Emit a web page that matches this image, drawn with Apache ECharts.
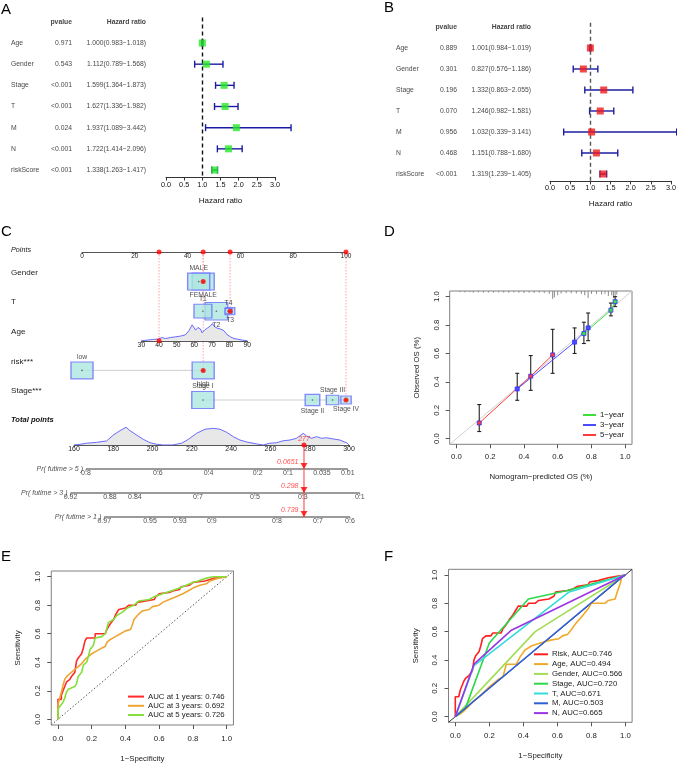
<!DOCTYPE html>
<html>
<head>
<meta charset="utf-8">
<title>Prognostic model figure</title>
<script src="https://cdn.jsdelivr.net/npm/echarts@6.0.0/dist/echarts.min.js"></script>
<style>
    html, body { margin: 0; padding: 0; background: #fff; }
    #chart { width: 677px; height: 764px; }
</style>
</head>
<body>
<div id="chart"></div>
<script>
var FONT = "'Liberation Sans', Arial, Helvetica, sans-serif";

// ---------- A / B : Cox regression forest plots ----------
var forestVars = ["Age", "Gender", "Stage", "T", "M", "N", "riskScore"];
var uniP = ["0.971", "0.543", "<0.001", "<0.001", "0.024", "<0.001", "<0.001"];
var uniHR = [1.000, 1.112, 1.599, 1.627, 1.937, 1.722, 1.338];
var uniLow = [0.983, 0.789, 1.364, 1.336, 1.089, 1.414, 1.263];
var uniHigh = [1.018, 1.568, 1.873, 1.982, 3.442, 2.096, 1.417];
var multiP = ["0.889", "0.301", "0.196", "0.070", "0.956", "0.468", "<0.001"];
var multiHR = [1.001, 0.827, 1.332, 1.246, 1.032, 1.151, 1.319];
var multiLow = [0.984, 0.576, 0.863, 0.982, 0.339, 0.788, 1.239];
var multiHigh = [1.019, 1.186, 2.055, 1.581, 3.141, 1.680, 1.405];

// ---------- C : nomogram ----------
var nomoRows = ["Points", "Gender", "T", "Age", "risk***", "Stage***"];
var genderLevels = ["FEMALE", "MALE"];
var genderPts = [45.9, 44.2];
var genderFreq = [0.5, 0.5];
var tLevels = ["T1", "T2", "T3", "T4"];
var tPts = [45.8, 50.9, 56.1, 55.5];
var tFreq = [0.33, 0.53, 0.09, 0.05];
var riskLevels = ["low", "high"];
var riskPts = [0, 45.9];
var riskFreq = [0.5, 0.5];
var stageLevels = ["Stage I", "Stage II", "Stage III", "Stage IV"];
var stagePts = [45.8, 87.3, 94.9, 100];
var stageFreq = [0.51, 0.22, 0.16, 0.11];
var ageRange = [30, 90];
var agePtsRange = [22.5, 62.6];
var ageX = [30, 33.2, 37, 40, 41.7, 43.6, 46.5, 49.3, 52.1, 55, 56.9, 58.8, 59.7, 60.7, 62, 63.5,
    64.4, 65.8, 67.3, 69.2, 70.3, 71.5, 73, 74.9, 76.8, 78.6, 80.5, 82.4, 84.3, 87.2, 90];
var ageDens = [0, 0.04, 0.08, 0.1, 0.19, 0.13, 0.19, 0.23, 0.27, 0.35, 0.58, 0.92, 0.87, 0.62, 0.77, 0.68,
    0.46, 0.62, 0.73, 0.87, 1.0, 0.81, 0.73, 0.68, 0.58, 0.35, 0.23, 0.13, 0.1, 0.04, 0];
var totalX = [160, 163.1, 166.4, 171.5, 176.6, 180, 183.4, 186.5, 188.5, 191.9, 195.3, 198.7, 202.1, 205.5,
    210, 214.8, 218.2, 222.4, 226.7, 230.9, 234.3, 237.7, 241.1, 244.5, 247.9, 253, 256.3, 259.7, 263.2,
    266.5, 269.9, 273.3, 276.7, 278.4, 280.9, 283.5, 286, 288.6, 292, 295.4, 299, 300];
var totalDens = [0, 0.04, 0.1, 0.15, 0.23, 0.56, 0.81, 1, 0.81, 0.56, 0.32, 0.13, 0.04, 0,
    0, 0.1, 0.32, 0.66, 0.89, 0.94, 0.89, 0.72, 0.47, 0.28, 0.17, 0.06, 0, 0.1, 0.13,
    0.24, 0.28, 0.38, 0.66, 0.51, 0.38, 0.47, 0.38, 0.41, 0.34, 0.28, 0.11, 0];
var prNames = ["Pr( futime > 5 )", "Pr( futime > 3 )", "Pr( futime > 1 )"];
var prTickLabels = [
    ["0.8", "0.6", "0.4", "0.2", "0.1", "0.035", "0.01"],
    ["0.92", "0.88", "0.84", "0.7", "0.5", "0.3", "0.1"],
    ["0.97", "0.95", "0.93", "0.9", "0.8", "0.7", "0.6"]
];
var prTickTotals = [
    [166.1, 202.7, 228.5, 253.5, 268.9, 286.2, 299.4],
    [158.2, 178.3, 191.0, 223.1, 252.1, 276.5, 305.5],
    [175.4, 198.7, 213.9, 230.2, 263.3, 284.2, 300.5]
];
var prResult = ["0.0651", "0.298", "0.739"];
// the patient marked in red
var selGender = 0, selT = 2, selAge = 40, selRisk = 1, selStage = 3;

// ---------- D : calibration ----------
var calNames = ["1\u2212year", "3\u2212year", "5\u2212year"];
var calPred = [[0.755, 0.915, 0.94], [0.36, 0.70, 0.78], [0.135, 0.44, 0.57]];
var calObs = [[0.74, 0.905, 0.965], [0.35, 0.68, 0.78], [0.11, 0.44, 0.59]];
var calLow = [[0.67, 0.865, 0.93], [0.27, 0.60, 0.69], [0.05, 0.34, 0.46]];
var calHigh = [[0.82, 0.955, 1.0], [0.46, 0.78, 0.885], [0.24, 0.585, 0.77]];
var riskX = [0.02, 0.05, 0.08, 0.1, 0.13, 0.16, 0.19, 0.22, 0.25, 0.28, 0.31, 0.34, 0.37, 0.4, 0.43, 0.46,
    0.49, 0.52, 0.55, 0.57, 0.58, 0.6, 0.62, 0.65, 0.68, 0.71, 0.74, 0.76, 0.78, 0.8, 0.83, 0.86, 0.88,
    0.9, 0.92, 0.93, 0.94, 0.95];
var riskH = [0.008, 0.01, 0.008, 0.012, 0.01, 0.012, 0.01, 0.012, 0.01, 0.012, 0.012, 0.01, 0.012, 0.014,
    0.012, 0.014, 0.012, 0.014, 0.02, 0.055, 0.045, 0.03, 0.018, 0.015, 0.016, 0.018, 0.02, 0.03, 0.05,
    0.02, 0.02, 0.025, 0.02, 0.035, 0.03, 0.05, 0.04, 0.025];

// ---------- E : time-dependent ROC ----------
var rocEYears = [1, 3, 5];
var rocEAuc = ["0.746", "0.692", "0.726"];
var rocE1 = [[0, 0], [0, 0.07], [0, 0.14], [0.02, 0.14], [0.02, 0.17], [0.03, 0.2], [0.04, 0.23], [0.05, 0.26],
    [0.07, 0.28], [0.08, 0.3], [0.1, 0.33], [0.11, 0.41], [0.12, 0.43], [0.14, 0.46], [0.15, 0.5], [0.16, 0.55],
    [0.17, 0.57], [0.22, 0.57], [0.22, 0.6], [0.28, 0.6], [0.29, 0.63], [0.3, 0.64], [0.31, 0.67], [0.33, 0.7],
    [0.34, 0.73], [0.36, 0.77], [0.4, 0.78], [0.42, 0.8], [0.46, 0.8], [0.47, 0.82], [0.52, 0.83], [0.57, 0.84],
    [0.58, 0.86], [0.6, 0.88], [0.66, 0.89], [0.68, 0.9], [0.72, 0.91], [0.73, 0.93], [0.78, 0.94], [0.79, 0.95],
    [0.8, 0.96], [0.87, 0.97], [0.9, 0.98], [0.93, 0.99], [1, 1]];
var rocE3 = [[0, 0], [0, 0.05], [0, 0.1], [0.01, 0.15], [0.02, 0.19], [0.03, 0.24], [0.04, 0.28], [0.06, 0.31],
    [0.08, 0.33], [0.1, 0.35], [0.12, 0.37], [0.14, 0.39], [0.16, 0.42], [0.18, 0.44], [0.2, 0.46], [0.23, 0.48],
    [0.26, 0.5], [0.28, 0.51], [0.29, 0.54], [0.31, 0.56], [0.34, 0.58], [0.37, 0.6], [0.4, 0.62], [0.43, 0.63],
    [0.44, 0.66], [0.45, 0.7], [0.46, 0.71], [0.48, 0.74], [0.5, 0.76], [0.54, 0.77], [0.56, 0.79], [0.6, 0.8],
    [0.62, 0.82], [0.66, 0.84], [0.7, 0.86], [0.74, 0.88], [0.77, 0.9], [0.8, 0.92], [0.84, 0.94], [0.88, 0.95],
    [0.9, 0.97], [0.95, 0.99], [1, 1]];
var rocE5 = [[0, 0], [0, 0.07], [0.01, 0.09], [0.03, 0.12], [0.04, 0.15], [0.05, 0.19], [0.06, 0.21], [0.1, 0.23],
    [0.11, 0.25], [0.12, 0.3], [0.14, 0.33], [0.15, 0.38], [0.17, 0.4], [0.18, 0.44], [0.19, 0.49], [0.21, 0.52],
    [0.22, 0.57], [0.26, 0.58], [0.28, 0.6], [0.29, 0.64], [0.3, 0.68], [0.33, 0.7], [0.35, 0.73], [0.38, 0.75],
    [0.41, 0.78], [0.45, 0.8], [0.48, 0.83], [0.54, 0.84], [0.57, 0.86], [0.62, 0.88], [0.67, 0.9], [0.72, 0.92],
    [0.76, 0.94], [0.8, 0.96], [0.83, 0.97], [0.88, 0.99], [0.92, 1], [1, 1]];

// ---------- F : ROC of each factor ----------
var rocFNames = ["Risk", "Age", "Gender", "Stage", "T", "M", "N"];
var rocFAuc = ["0.746", "0.494", "0.566", "0.720", "0.671", "0.503", "0.665"];
var rocFRisk = [[0, 0], [0, 0.14], [0.02, 0.14], [0.03, 0.19], [0.04, 0.22], [0.05, 0.25], [0.06, 0.27], [0.08, 0.29],
    [0.1, 0.32], [0.11, 0.4], [0.12, 0.43], [0.14, 0.46], [0.15, 0.5], [0.16, 0.55], [0.18, 0.57], [0.21, 0.57],
    [0.22, 0.59], [0.27, 0.59], [0.28, 0.62], [0.3, 0.65], [0.32, 0.69], [0.34, 0.72], [0.36, 0.76], [0.37, 0.78],
    [0.42, 0.78], [0.43, 0.8], [0.47, 0.8], [0.49, 0.82], [0.55, 0.83], [0.58, 0.85], [0.59, 0.88], [0.66, 0.89],
    [0.69, 0.9], [0.72, 0.92], [0.78, 0.93], [0.79, 0.95], [0.84, 0.96], [0.9, 0.98], [0.95, 0.99], [1, 1]];
var rocFAge = [[0, 0], [0.03, 0.02], [0.06, 0.05], [0.1, 0.1], [0.15, 0.15], [0.2, 0.21], [0.25, 0.26], [0.28, 0.28],
    [0.3, 0.37], [0.36, 0.37], [0.38, 0.42], [0.41, 0.47], [0.45, 0.5], [0.5, 0.52], [0.56, 0.54], [0.61, 0.55],
    [0.63, 0.57], [0.66, 0.58], [0.68, 0.61], [0.71, 0.66], [0.74, 0.7], [0.78, 0.76], [0.8, 0.8], [0.88, 0.8],
    [0.9, 0.82], [0.94, 0.83], [0.95, 0.87], [0.97, 0.94], [0.98, 0.99], [1, 1]];
var rocFGender = [[0, 0], [0.47, 0.6], [1, 1]];
var rocFStage = [[0, 0], [0.06, 0.06], [0.2, 0.52], [0.43, 0.83], [0.66, 0.89], [1, 1]];
var rocFT = [[0, 0], [0.11, 0.36], [0.67, 0.88], [1, 1]];
var rocFM = [[0, 0], [0.97, 0.975], [1, 1]];
var rocFN = [[0, 0], [0.11, 0.37], [0.33, 0.61], [1, 1]];

// ---------- helpers ----------
function hrText(h, l, u) {
    return h.toFixed(3) + "(" + l.toFixed(3) + "\u2212" + u.toFixed(3) + ")";
}

function hiddenAxis(gi, min, max, inverse) {
    return { gridIndex: gi, type: "value", min: min, max: max, inverse: !!inverse, show: false };
}

function textLayer(gi, items, align, extra) {
    var label = {
        show: true, position: [0, 0], align: align, verticalAlign: "middle",
        formatter: "{b}", color: "#111", fontSize: 6.8, fontFamily: FONT
    };
    Object.keys(extra || {}).forEach(function (k) { label[k] = extra[k]; });
    return {
        type: "scatter", xAxisIndex: gi, yAxisIndex: gi, silent: true, symbolSize: 0, z: 10,
        data: items, label: label
    };
}

function segLayer(gi, data, style, kind) {
    // kind "h": [x1, x2, y]; "v": [x, y1, y2]
    return {
        type: "custom", xAxisIndex: gi, yAxisIndex: gi, silent: true, z: 2,
        data: data,
        renderItem: function (p, api) {
            var a, b;
            if (kind === "h") {
                a = api.coord([api.value(0), api.value(2)]);
                b = api.coord([api.value(1), api.value(2)]);
            } else {
                a = api.coord([api.value(0), api.value(1)]);
                b = api.coord([api.value(0), api.value(2)]);
            }
            return { type: "line", shape: { x1: a[0], y1: a[1], x2: b[0], y2: b[1] }, style: style };
        }
    };
}

function ciLayer(gi, lo, hi, color, cap, horizontal) {
    return {
        type: "custom", xAxisIndex: gi, yAxisIndex: gi, silent: true, z: 2,
        data: lo.map(function (l, i) { return horizontal ? [l, hi[i], i] : [horizontal, l, hi[i]]; }),
        renderItem: function (p, api) {
            var a = api.coord([api.value(0), api.value(2)]);
            var b = api.coord([api.value(1), api.value(2)]);
            var st = { stroke: color, lineWidth: 1.4 };
            return {
                type: "group", children: [
                    { type: "line", shape: { x1: a[0], y1: a[1], x2: b[0], y2: b[1] }, style: st },
                    { type: "line", shape: { x1: a[0], y1: a[1] - cap, x2: a[0], y2: a[1] + cap }, style: st },
                    { type: "line", shape: { x1: b[0], y1: b[1] - cap, x2: b[0], y2: b[1] + cap }, style: st }
                ]
            };
        }
    };
}

var grids = [];
var xAxes = [];
var yAxes = [];
var series = [];

function addGrid(g) {
    g.outerBoundsMode = "none";
    g.containLabel = false;
    grids.push(g);
    return grids.length - 1;
}

// ---------- forest plots (A, B) ----------
function forestPanel(plotBox, tableBox, cols, pvals, hr, lo, hi, boxColor, dashColor, nameGap) {
    var gp = addGrid(plotBox);
    xAxes.push({
        gridIndex: gp, type: "value", min: 0, max: 3, interval: 0.5,
        axisLine: { onZero: false, lineStyle: { color: "#333", width: 1 } },
        axisTick: { length: 3.5, lineStyle: { color: "#333" } },
        axisLabel: { formatter: function (v) { return v.toFixed(1); }, fontSize: 7.3, color: "#111", margin: 4,
            showMinLabel: true, showMaxLabel: true },
        splitLine: { show: false },
        name: "Hazard ratio", nameLocation: "middle", nameGap: nameGap,
        nameTextStyle: { fontSize: 8, color: "#111" }
    });
    yAxes.push(hiddenAxis(gp, -1.2, 6.33, true));
    series.push({
        type: "custom", xAxisIndex: gp, yAxisIndex: gp, silent: true, z: 2,
        data: lo.map(function (l, i) { return [l, hi[i], i]; }),
        renderItem: function (p, api) {
            var a = api.coord([api.value(0), api.value(2)]);
            var b = api.coord([api.value(1), api.value(2)]);
            var st = { stroke: "#1c1ca3", lineWidth: 1.4 };
            return {
                type: "group", children: [
                    { type: "line", shape: { x1: a[0], y1: a[1], x2: b[0], y2: b[1] }, style: st },
                    { type: "line", shape: { x1: a[0], y1: a[1] - 3.5, x2: a[0], y2: a[1] + 3.5 }, style: st },
                    { type: "line", shape: { x1: b[0], y1: b[1] - 3.5, x2: b[0], y2: b[1] + 3.5 }, style: st }
                ]
            };
        },
        markLine: {
            silent: true, symbol: ["none", "none"], label: { show: false },
            lineStyle: { type: [4, 3], color: dashColor, width: 1.4 },
            data: [{ xAxis: 1 }]
        }
    });
    series.push({
        type: "scatter", xAxisIndex: gp, yAxisIndex: gp, silent: true, z: 5,
        symbol: "rect", symbolSize: 7, itemStyle: { color: boxColor },
        data: hr.map(function (h, i) { return [h, i]; })
    });

    var gt = addGrid(tableBox);
    xAxes.push(hiddenAxis(gt, 0, tableBox.width));
    yAxes.push(hiddenAxis(gt, -1.2, 6.33, true));
    series.push(textLayer(gt, forestVars.map(function (n, i) { return { name: n, value: [cols[0], i] }; }), "left"));
    series.push(textLayer(gt, pvals.map(function (p, i) { return { name: p, value: [cols[1], i] }; }), "right"));
    series.push(textLayer(gt, hr.map(function (h, i) {
        return { name: hrText(h, lo[i], hi[i]), value: [cols[2], i] };
    }), "right"));
    series.push(textLayer(gt, [{ name: "pvalue", value: [cols[1], -1] }, { name: "Hazard ratio", value: [cols[2], -1] }],
        "right", { fontWeight: "bold" }));
}

forestPanel({ left: 166, top: 17.6, width: 109, height: 159.4 }, { left: 0, top: 17.6, width: 166, height: 159.4 },
    [11, 72, 146], uniP, uniHR, uniLow, uniHigh, "#25e825", "#111", 19.5);
forestPanel({ left: 550, top: 22.8, width: 121, height: 158.1 }, { left: 338, top: 22.8, width: 212, height: 158.1 },
    [58, 119, 193], multiP, multiHR, multiLow, multiHigh, "#f01a1a", "#555", 18.5);

// ---------- nomogram (C) ----------
var PTS_LEFT = 82, PTS_WIDTH = 264;
function agePoints(a) {
    return agePtsRange[0] + (a - ageRange[0]) / (ageRange[1] - ageRange[0]) * (agePtsRange[1] - agePtsRange[0]);
}
var selPts = [genderPts[selGender], tPts[selT], agePoints(selAge), riskPts[selRisk], stagePts[selStage]];
var selTotal = selPts.reduce(function (s, v) { return s + v; }, 0);

var gRows = addGrid({ left: PTS_LEFT, top: 252, width: PTS_WIDTH, height: 148 });
xAxes.push({
    gridIndex: gRows, type: "value", min: 0, max: 100, interval: 20, position: "top",
    axisLine: { onZero: false, lineStyle: { color: "#555", width: 1 } },
    axisTick: { inside: true, length: 2, lineStyle: { color: "#555" } },
    axisLabel: { inside: true, margin: 1, fontSize: 6.5, color: "#222", showMinLabel: true, showMaxLabel: true },
    splitLine: { show: false }
});
yAxes.push({
    gridIndex: gRows, type: "value", min: 0, max: 5, interval: 1, inverse: true,
    axisLine: { show: false, onZero: false }, axisTick: { show: false }, splitLine: { show: false },
    axisLabel: {
        align: "left", margin: 71, color: "#222",
        formatter: function (v) {
            var i = Math.round(v);
            return i === 0 ? "{it|" + nomoRows[0] + "}" : "{n|" + nomoRows[i] + "}";
        },
        rich: {
            it: { fontStyle: "italic", fontSize: 7.2, color: "#222", padding: [0, 0, 4, 0] },
            n: { fontSize: 8.1, color: "#222", padding: [0, 0, 18, 0] }
        }
    }
});

function boxItems(levels, pts, freq, row) {
    var order = levels.map(function (l, i) { return i; });
    var byPos = order.slice().sort(function (a, b) { return pts[a] - pts[b]; });
    var side = {};
    byPos.forEach(function (idx, k) { side[idx] = k % 2 === 0 ? "top" : "bottom"; });
    var byFreq = order.slice().sort(function (a, b) { return freq[b] - freq[a]; });
    return byFreq.map(function (i) {
        var h = 24 * Math.sqrt(freq[i]);
        return {
            name: levels[i], value: [pts[i], row], symbolSize: [1.3 * h, h],
            label: { position: side[i] }
        };
    });
}
var boxes = [].concat(
    boxItems(genderLevels, genderPts, genderFreq, 1),
    boxItems(tLevels, tPts, tFreq, 2),
    boxItems(riskLevels, riskPts, riskFreq, 4),
    boxItems(stageLevels, stagePts, stageFreq, 5)
);

series.push(segLayer(gRows, [
    [Math.min.apply(null, riskPts), Math.max.apply(null, riskPts), 4],
    [Math.min.apply(null, stagePts), Math.max.apply(null, stagePts), 5]
], { stroke: "#cfcfcf", lineWidth: 1 }, "h"));
series.push(segLayer(gRows, [
    [selPts[0], 0, 1], [selPts[1], 0, 2], [selPts[2], 0, 3], [selPts[3], 0, 4], [selPts[4], 0, 5]
], { stroke: "#ff8c8c", lineWidth: 0.8, lineDash: [1.5, 1.5] }, "v"));
series.push({
    type: "scatter", xAxisIndex: gRows, yAxisIndex: gRows, silent: true, z: 3,
    symbol: "rect", data: boxes,
    itemStyle: { color: "#ace6de", borderColor: "#6b6bff", borderWidth: 1.2 },
    label: { show: true, formatter: "{b}", distance: 1, fontSize: 6.8, color: "#222" }
});
series.push({
    type: "scatter", xAxisIndex: gRows, yAxisIndex: gRows, silent: true, z: 4,
    symbolSize: 1.6, itemStyle: { color: "#444" },
    data: boxes.map(function (b) { return b.value; })
});
series.push({
    type: "scatter", xAxisIndex: gRows, yAxisIndex: gRows, silent: true, z: 6,
    symbolSize: 5, itemStyle: { color: "#ff0000" },
    data: [[selPts[0], 0], [selPts[1], 0], [selPts[2], 0], [selPts[4], 0],
        [selPts[0], 1], [selPts[1], 2], [selPts[3], 4], [selPts[4], 5]]
});

// Age row: its own scale, placed on the points scale
var ageLeft = PTS_LEFT + agePtsRange[0] / 100 * PTS_WIDTH;
var ageWidth = (agePtsRange[1] - agePtsRange[0]) / 100 * PTS_WIDTH;
var gAge = addGrid({ left: ageLeft, top: 321.8, width: ageWidth, height: 19 });
xAxes.push({
    gridIndex: gAge, type: "value", min: ageRange[0], max: ageRange[1], interval: 10,
    axisLine: { onZero: false, lineStyle: { color: "#555", width: 1 } },
    axisTick: { length: 2, lineStyle: { color: "#555" } },
    axisLabel: { margin: 0.5, fontSize: 6.8, color: "#222", showMinLabel: true, showMaxLabel: true },
    splitLine: { show: false }
});
yAxes.push(hiddenAxis(gAge, 0, 1.098));
series.push({
    type: "line", xAxisIndex: gAge, yAxisIndex: gAge, silent: true, symbol: "none",
    data: ageX.map(function (a, i) { return [a, ageDens[i]]; }),
    lineStyle: { color: "#5a5aff", width: 0.9 }, areaStyle: { color: "#e8e8e8", opacity: 1 }
});
series.push({
    type: "scatter", xAxisIndex: gAge, yAxisIndex: gAge, silent: true, z: 6,
    symbolSize: 5, itemStyle: { color: "#ff0000" }, data: [[selAge, 0]]
});

// Total points
var TOT_LEFT = 74, TOT_WIDTH = 275, TOT_MIN = 160, TOT_MAX = 300;
var gTot = addGrid({ left: TOT_LEFT, top: 420, width: TOT_WIDTH, height: 25 });
xAxes.push({
    gridIndex: gTot, type: "value", min: TOT_MIN, max: TOT_MAX, interval: 20,
    axisLine: { onZero: false, lineStyle: { color: "#555", width: 1 } },
    axisTick: { length: 2, lineStyle: { color: "#555" } },
    axisLabel: { margin: 1, fontSize: 7, color: "#222", showMinLabel: true, showMaxLabel: true },
    splitLine: { show: false }
});
yAxes.push({
    gridIndex: gTot, type: "value", min: 0, max: 1.412, interval: 1.412,
    axisLine: { show: false, onZero: false }, axisTick: { show: false }, splitLine: { show: false },
    axisLabel: {
        align: "left", margin: 63, fontSize: 7.6, fontWeight: "bold", fontStyle: "italic", color: "#111",
        formatter: function (v) { return v > 1 ? "Total points" : ""; }
    }
});
series.push({
    type: "line", xAxisIndex: gTot, yAxisIndex: gTot, silent: true, symbol: "none",
    data: totalX.map(function (t, i) { return [t, totalDens[i]]; }),
    lineStyle: { color: "#5a5aff", width: 0.9 }, areaStyle: { color: "#e8e8e8", opacity: 1 }
});
series.push({
    type: "scatter", xAxisIndex: gTot, yAxisIndex: gTot, silent: true, z: 6,
    symbolSize: 5, itemStyle: { color: "#ff0000" },
    data: [{ name: String(Math.round(selTotal)), value: [selTotal, 0] }],
    label: { show: true, position: "top", distance: 0, formatter: "{b}", color: "#ff2020",
        fontStyle: "italic", fontSize: 7 }
});

// probability scales, on the total-points scale
var PR_MIN = 150, PR_MAX = 310;
var pxPerTot = TOT_WIDTH / (TOT_MAX - TOT_MIN);
var gPr = addGrid({
    left: TOT_LEFT + (PR_MIN - TOT_MIN) * pxPerTot, top: 445,
    width: (PR_MAX - PR_MIN) * pxPerTot, height: 72
});
xAxes.push(hiddenAxis(gPr, PR_MIN, PR_MAX));
yAxes.push(hiddenAxis(gPr, -1, 2, true));
series.push(segLayer(gPr, prTickTotals.map(function (p, i) { return [p[0], p[p.length - 1], i]; }),
    { stroke: "#7a7a7a", lineWidth: 1.3 }, "h"));
var prTicks = [];
prTickTotals.forEach(function (row, i) {
    row.forEach(function (t, j) { prTicks.push({ name: prTickLabels[i][j], value: [t, i] }); });
});
series.push({
    type: "scatter", xAxisIndex: gPr, yAxisIndex: gPr, silent: true, z: 3,
    symbol: "rect", symbolSize: [0.8, 3], symbolOffset: [0, 1.5], itemStyle: { color: "#666" },
    data: prTicks.map(function (d) { return d.value; })
});
series.push(textLayer(gPr, prTicks, "center", { verticalAlign: "top", fontSize: 7, color: "#222", offset: [0, 0.5] }));
series.push(textLayer(gPr, prNames.map(function (n, i) {
    return { name: n, value: [prTickTotals[i][0], i] };
}), "right", { fontStyle: "italic", fontSize: 7, color: "#222", offset: [-3, 0] }));
series.push(segLayer(gPr, [[selTotal, -1, 2]], { stroke: "#ff5a5a", lineWidth: 1.2 }, "v"));
series.push({
    type: "scatter", xAxisIndex: gPr, yAxisIndex: gPr, silent: true, z: 6,
    symbol: "triangle", symbolRotate: 180, symbolSize: [7, 6], symbolOffset: [0, -3],
    itemStyle: { color: "#ff0000" },
    data: prResult.map(function (r, i) { return { name: r, value: [selTotal, i] }; }),
    label: { show: true, position: "left", distance: 2, offset: [0, -4], formatter: "{b}",
        color: "#ff2020", fontStyle: "italic", fontSize: 7 }
});

// ---------- unit-square panels (D, E, F) ----------
var unitTicks = [0, 0.2, 0.4, 0.6, 0.8, 1];
function unitPanel(box, xName, yName, xMargin, yMargin, xGap, yGap) {
    box.show = true;
    box.borderColor = "#808080";
    box.borderWidth = 1;
    var g = addGrid(box);
    function ax(isY, name, margin, gap) {
        return {
            gridIndex: g, type: "value", min: -0.04, max: 1.04,
            axisLine: { show: false, onZero: false },
            axisTick: { show: true, customValues: unitTicks, length: 4, lineStyle: { color: "#555" } },
            axisLabel: { customValues: unitTicks, formatter: function (v) { return v.toFixed(1); },
                margin: margin, fontSize: 7.8, color: "#222", rotate: isY ? 90 : 0 },
            splitLine: { show: false },
            name: name, nameLocation: "middle", nameGap: gap,
            nameTextStyle: { fontSize: 7.8, color: "#222" }
        };
    }
    xAxes.push(ax(false, xName, xMargin, xGap));
    yAxes.push(ax(true, yName, yMargin, yGap));
    return g;
}

// D
var gD = unitPanel({ left: 449.7, top: 291, width: 182.3, height: 153.3 },
    "Nomogram\u2212predicted OS (%)", "Observed OS (%)", 9, 9, 29, 29);
series.push({
    type: "line", xAxisIndex: gD, yAxisIndex: gD, silent: true, symbol: "none", z: 1,
    data: [[-0.04, -0.04], [1.04, 1.04]], lineStyle: { color: "#d0d0d0", width: 1 }
});
series.push({
    type: "custom", xAxisIndex: gD, yAxisIndex: gD, silent: true, z: 1,
    data: riskX.map(function (x, i) { return [x, riskH[i]]; }),
    renderItem: function (p, api) {
        var a = api.coord([api.value(0), 1.04]);
        var b = api.coord([api.value(0), 1.04 - api.value(1)]);
        return { type: "line", shape: { x1: a[0], y1: a[1], x2: b[0], y2: b[1] }, style: { stroke: "#8a8a8a", lineWidth: 1 } };
    }
});
var calBars = [];
calPred.forEach(function (row, k) {
    row.forEach(function (x, j) { calBars.push([x, calLow[k][j], calHigh[k][j]]); });
});
series.push({
    type: "custom", xAxisIndex: gD, yAxisIndex: gD, silent: true, z: 2,
    data: calBars,
    renderItem: function (p, api) {
        var a = api.coord([api.value(0), api.value(1)]);
        var b = api.coord([api.value(0), api.value(2)]);
        var st = { stroke: "#222", lineWidth: 1.1 };
        return {
            type: "group", children: [
                { type: "line", shape: { x1: a[0], y1: a[1], x2: b[0], y2: b[1] }, style: st },
                { type: "line", shape: { x1: a[0] - 2, y1: a[1], x2: a[0] + 2, y2: a[1] }, style: st },
                { type: "line", shape: { x1: b[0] - 2, y1: b[1], x2: b[0] + 2, y2: b[1] }, style: st }
            ]
        };
    }
});
var calColors = ["#3ddf3d", "#4c4cff", "#ff3b3b"];
[0, 2, 1].forEach(function (k) {
    series.push({
        type: "line", name: calNames[k], xAxisIndex: gD, yAxisIndex: gD, z: 3,
        data: calPred[k].map(function (x, j) { return [x, calObs[k][j]]; }),
        symbol: "rect", symbolSize: 4,
        lineStyle: { color: calColors[k], width: 1 },
        itemStyle: { color: calColors[k], borderColor: "#2e2eff", borderWidth: 0.8 }
    });
});

// E
var gE = unitPanel({ left: 51.25, top: 571, width: 182.2, height: 154 },
    "1\u2212Specificity", "Sensitivity", 9.5, 9.75, 29.5, 29.75);
series.push({
    type: "line", xAxisIndex: gE, yAxisIndex: gE, silent: true, symbol: "none", z: 1,
    data: [[-0.04, -0.04], [1.04, 1.04]], lineStyle: { color: "#555", width: 1, type: [1.5, 2] }
});
var rocEData = [rocE1, rocE3, rocE5];
var rocEColors = ["#ff2a2a", "#eda533", "#85df3a"];
var rocENames = rocEYears.map(function (y, i) { return "AUC at " + y + " years: " + rocEAuc[i]; });
rocEData.forEach(function (d, i) {
    series.push({
        type: "line", name: rocENames[i], xAxisIndex: gE, yAxisIndex: gE, symbol: "none", z: 3,
        data: d, lineStyle: { color: rocEColors[i], width: 1.6 }, itemStyle: { color: rocEColors[i] }
    });
});

// F
var gF = unitPanel({ left: 448.5, top: 569.3, width: 183.6, height: 153 },
    "1\u2212Specificity", "Sensitivity", 10, 9.3, 29.9, 29);
series.push({
    type: "line", xAxisIndex: gF, yAxisIndex: gF, silent: true, symbol: "none", z: 1,
    data: [[-0.04, -0.04], [1.04, 1.04]], lineStyle: { color: "#000", width: 0.8 }
});
var rocFData = [rocFRisk, rocFAge, rocFGender, rocFStage, rocFT, rocFM, rocFN];
var rocFColors = ["#ff1f1f", "#f0aa2a", "#a3dc55", "#2cd84a", "#35dada", "#2f5fd8", "#9a34e6"];
var rocFLegend = rocFNames.map(function (n, i) { return n + ", AUC=" + rocFAuc[i]; });
rocFData.forEach(function (d, i) {
    series.push({
        type: "line", name: rocFLegend[i], xAxisIndex: gF, yAxisIndex: gF, symbol: "none", z: 3,
        data: d, lineStyle: { color: rocFColors[i], width: 1.6 }, itemStyle: { color: rocFColors[i] }
    });
});

function legendBox(names, left, top, w, lh) {
    return {
        data: names, orient: "vertical", left: left, top: top, padding: 0, itemGap: 0,
        itemWidth: w, itemHeight: 2, icon: "rect", selectedMode: false,
        itemStyle: { borderWidth: 0 },
        textStyle: { fontSize: 7.8, lineHeight: lh, color: "#222", padding: [0, 0, 0, -1] }
    };
}

var letters = [["A", 1, 2], ["B", 384, 0], ["C", 1, 224], ["D", 384, 224], ["E", 1, 549], ["F", 384, 549]];

var option = {
    animation: false,
    backgroundColor: "#fff",
    textStyle: { fontFamily: FONT },
    title: letters.map(function (l) {
        return { text: l[0], left: l[1], top: l[2], padding: 0,
            textStyle: { fontSize: 15, fontWeight: "normal", color: "#000", fontFamily: FONT } };
    }),
    legend: [
        legendBox(calNames, 583, 410, 13, 10),
        legendBox(rocENames, 128, 692, 16, 9.2),
        legendBox(rocFLegend, 534, 649.4, 14, 9.8)
    ],
    grid: grids,
    xAxis: xAxes,
    yAxis: yAxes,
    series: series
};

var myChart = echarts.init(document.getElementById("chart"));
myChart.setOption(option);
</script>
</body>
</html>
